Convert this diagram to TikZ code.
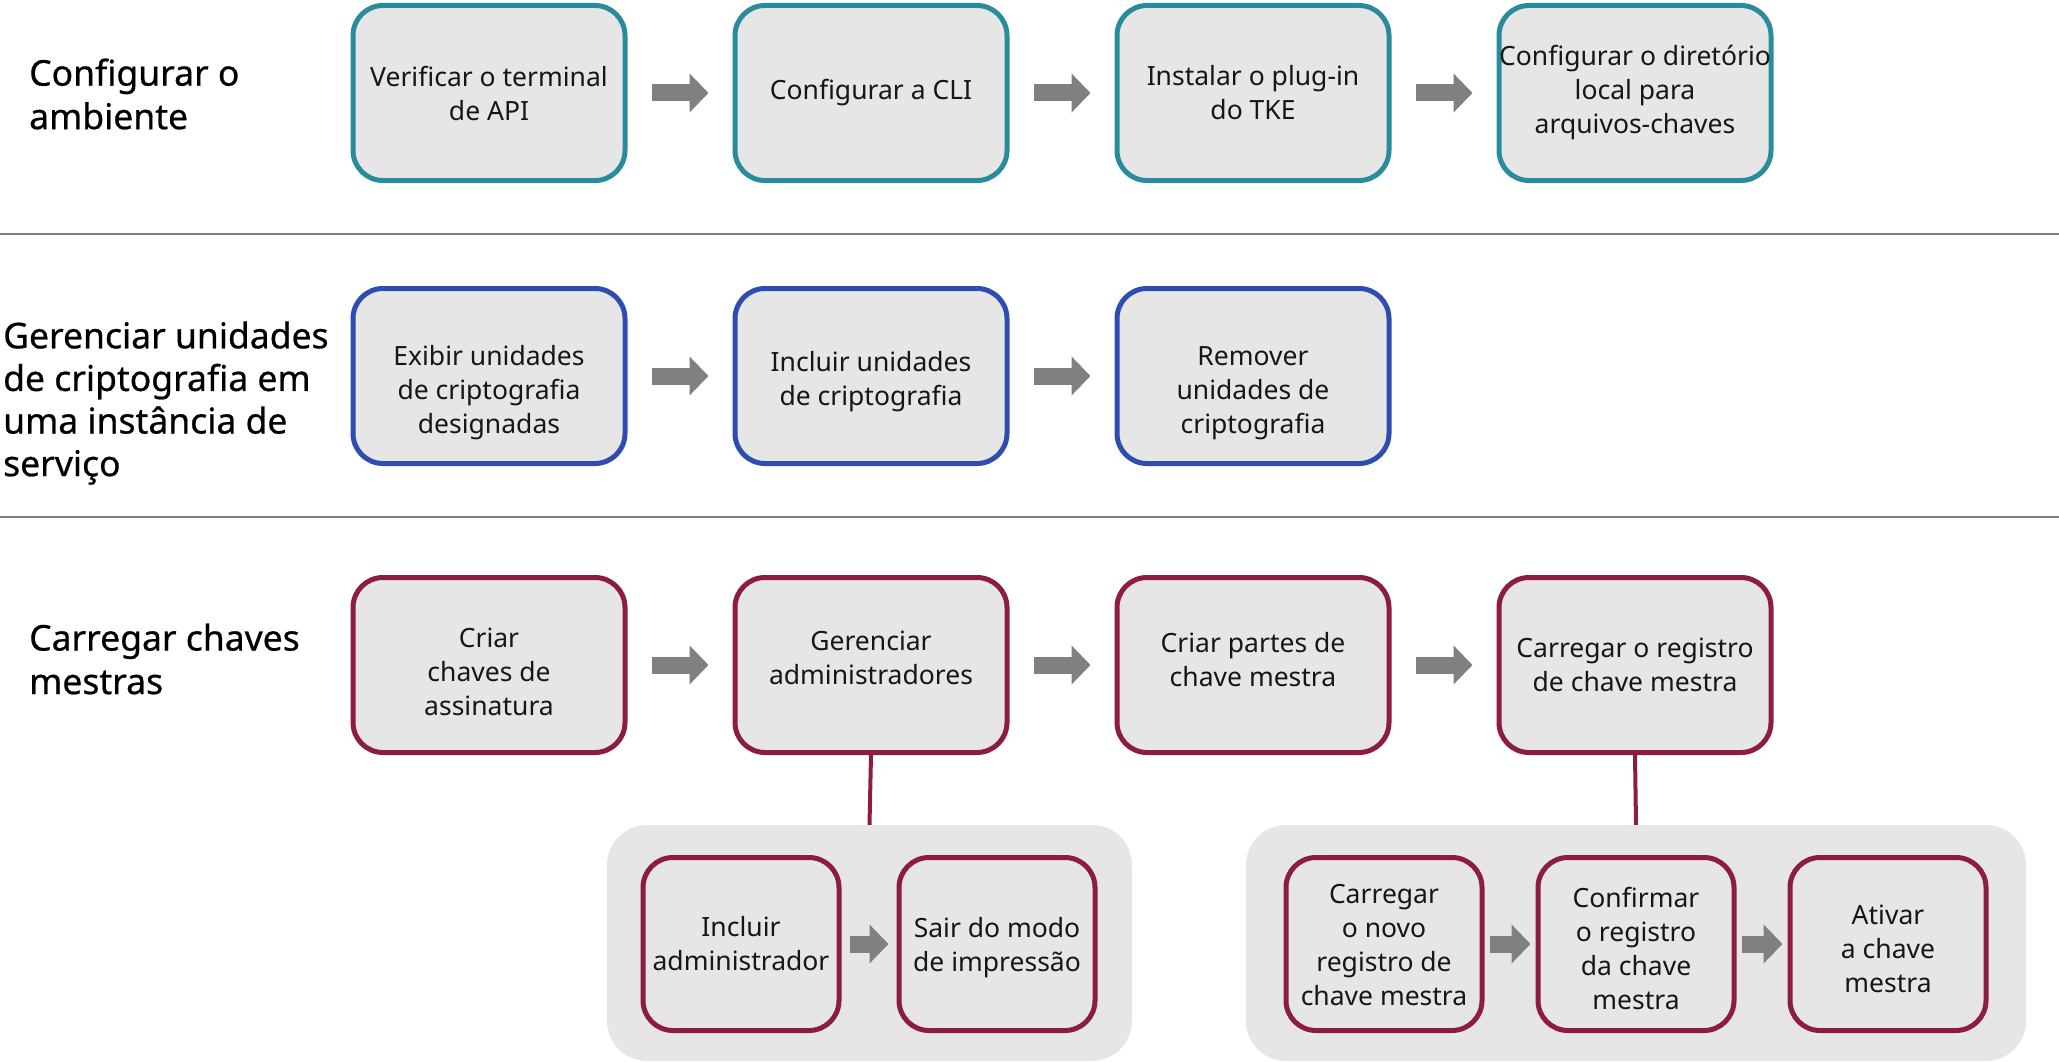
\documentclass[tikz,border=0pt]{standalone}
\usepackage{fontspec}
\setmainfont{Noto Sans}
\newfontfamily\headfont[FakeBold=0.6]{Noto Sans}
\usetikzlibrary{arrows.meta}
\definecolor{tealc}{HTML}{2A8B9D}
\definecolor{bluec}{HTML}{2F4DB0}
\definecolor{redc}{HTML}{8C1D3C}
\definecolor{boxfill}{HTML}{E6E6E6}
\definecolor{arrowgray}{HTML}{808080}
\definecolor{sepgray}{HTML}{7F7F7F}
\definecolor{txt}{HTML}{161616}
\newcommand\boxtxt[2]{\raisebox{-#1}[\height][\depth]{\begin{tabular}{@{}c@{}}#2\end{tabular}}}
\begin{document}
\begin{tikzpicture}[x=1pt,y=-1pt,
  box/.style={draw, line width=5pt, fill=boxfill, rounded corners=30pt,
    minimum width=272pt, minimum height=175pt, align=center, inner sep=0pt,
    text=txt, font=\fontsize{26.5}{34}\selectfont},
  subbox/.style={box, minimum width=196pt, minimum height=173pt},
  grp/.style={fill=boxfill, rounded corners=40pt, inner sep=0pt},
  title/.style={align=left, inner sep=0pt, anchor=west, text=black,
    font=\headfont\fontsize{35.5}{43.5}\selectfont},
  blockarrow/.style={draw=arrowgray, line width=17pt,
    -{Triangle[length=19pt,width=38pt]}, shorten <=24pt, shorten >=24pt},
  subarrow/.style={blockarrow, shorten <=#1, shorten >=#1},
  conn/.style={draw=redc, line width=4pt},
  sepline/.style={draw=sepgray, line width=2.5pt}]
\useasboundingbox (0,0) rectangle (2059,1062);

% separators
\draw[sepline] (0,234) -- (2059,234);
\draw[sepline] (0,517) -- (2059,517);

% titles
\node[title] (t1) at (29,94) {Configurar o\\ambiente};
\node[title, font=\headfont\fontsize{35.5}{42.6}\selectfont] (t2) at (3,403) {Gerenciar unidades\\de criptografia em\\uma instância de\\serviço};
\node[title] (t3) at (29,659) {Carregar chaves\\mestras};

% row 1
\node[box, draw=tealc] (a1) at (489,93) {Verificar o terminal\\de API};
\node[box, draw=tealc] (a2) at (871,93) {Configurar a CLI};
\node[box, draw=tealc] (a3) at (1253,93) {Instalar o plug-in\\do TKE};
\node[box, draw=tealc] (a4) at (1635,93) {Configurar o diretório\\local para\\arquivos-chaves};
\draw[blockarrow] (a1.east) -- (a2.west);
\draw[blockarrow] (a2.east) -- (a3.west);
\draw[blockarrow] (a3.east) -- (a4.west);

% row 2
\node[box, draw=bluec] (b1) at (489,376) {\boxtxt{17pt}{Exibir unidades\\de criptografia\\designadas}};
\node[box, draw=bluec] (b2) at (871,376) {\boxtxt{6pt}{Incluir unidades\\de criptografia}};
\node[box, draw=bluec] (b3) at (1253,376) {\boxtxt{17pt}{Remover\\unidades de\\criptografia}};
\draw[blockarrow] (b1.east) -- (b2.west);
\draw[blockarrow] (b2.east) -- (b3.west);

% row 3
\node[box, draw=redc] (c1) at (489,665) {\boxtxt{10pt}{Criar\\chaves de\\assinatura}};
\node[box, draw=redc] (c2) at (871,665) {\boxtxt{-4pt}{Gerenciar\\administradores}};
\node[box, draw=redc] (c3) at (1253,665) {\boxtxt{-2pt}{Criar partes de\\chave mestra}};
\node[box, draw=redc] (c4) at (1635,665) {Carregar o registro\\de chave mestra};
\draw[blockarrow] (c1.east) -- (c2.west);
\draw[blockarrow] (c2.east) -- (c3.west);
\draw[blockarrow] (c3.east) -- (c4.west);

% group 1
\node[grp, minimum width=525pt, minimum height=236pt] (g1) at (869.5,943) {};
\node[subbox, draw=redc] (d1) at (741,944) {Incluir\\administrador};
\node[subbox, draw=redc] (d2) at (997,944) {\boxtxt{4pt}{Sair do modo\\de impressão}};
\draw[subarrow=8pt] (d1.east) -- (d2.west);
\draw[conn] (c2.south) -- (g1.north);

% group 2
\node[grp, minimum width=780pt, minimum height=236pt] (g2) at (1636,943) {};
\node[subbox, draw=redc] (e1) at (1384,944) {\boxtxt{4pt}{Carregar\\o novo\\registro de\\chave mestra}};
\node[subbox, draw=redc] (e2) at (1636,944) {\boxtxt{8pt}{Confirmar\\o registro\\da chave\\mestra}};
\node[subbox, draw=redc] (e3) at (1888,944) {\boxtxt{8pt}{Ativar\\a chave\\mestra}};
\draw[subarrow=5pt] (e1.east) -- (e2.west);
\draw[subarrow=5pt] (e2.east) -- (e3.west);
\draw[conn] (c4.south) -- (g2.north);
\end{tikzpicture}
\end{document}
